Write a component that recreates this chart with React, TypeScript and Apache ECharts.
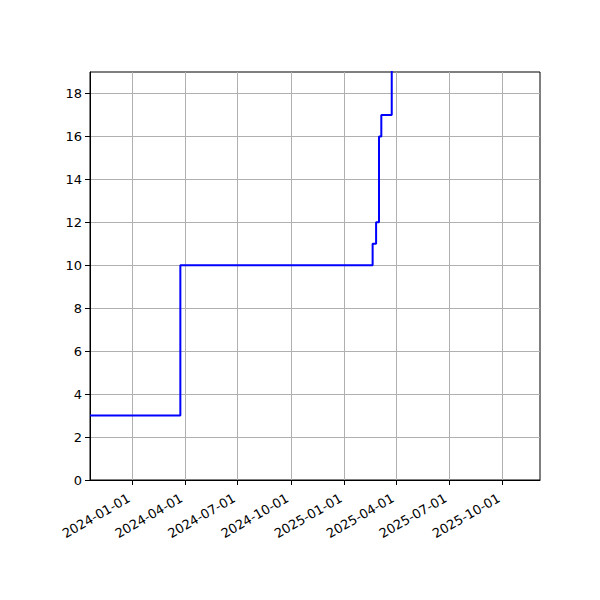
import React, { useEffect, useRef } from 'react';
import * as echarts from 'echarts';

// 数据：值在该日期发生变化
const changeDates = ['2023-10-20', '2024-03-24', '2025-02-19', '2025-02-25', '2025-03-02', '2025-03-06', '2025-03-24', '2025-12-05'];
const counts = [3, 10, 11, 12, 16, 17, 30, 30];
const xTickDates = ['2024-01-01', '2024-04-01', '2024-07-01', '2024-10-01', '2025-01-01', '2025-04-01', '2025-07-01', '2025-10-01'];
const yTicks = [0, 2, 4, 6, 8, 10, 12, 14, 16, 18];
const xMin = '2023-10-20';
const xMax = '2025-12-05';
const yMax = 19;

const ts = (d: string) => new Date(d + 'T00:00:00Z').getTime();
const fmt = (v: number) => new Date(v).toISOString().slice(0, 10);

export default function App() {
    const chartRef = useRef<HTMLDivElement>(null);

    useEffect(() => {
        if (!chartRef.current) return;
        const chart = echarts.init(chartRef.current, null, { renderer: 'svg' });
        const font = { fontFamily: 'DejaVu Sans', fontSize: 13, color: '#000' };
        const tickVals = xTickDates.map(ts);
        chart.setOption({
            animation: false,
            grid: { left: 90, right: 60, top: 72, bottom: 120, show: true, borderColor: '#000', borderWidth: 1, backgroundColor: '#fff' },
            xAxis: {
                type: 'value',
                min: ts(xMin),
                max: ts(xMax),
                axisLine: { show: true, lineStyle: { color: '#000' } },
                axisTick: { show: true, length: 5, lineStyle: { color: '#000' }, customValues: tickVals },
                axisLabel: { ...font, rotate: 30, margin: 15, padding: [0, 4, 0, 0], customValues: tickVals, formatter: (v: number) => fmt(v) },
                splitLine: { show: false },
            },
            yAxis: {
                type: 'value',
                min: 0,
                max: yMax,
                axisLine: { show: true, lineStyle: { color: '#000' } },
                axisTick: { show: true, length: 5, lineStyle: { color: '#000' }, customValues: yTicks },
                axisLabel: { ...font, margin: 8, customValues: yTicks },
                splitLine: { show: true, lineStyle: { color: '#b0b0b0', width: 1 } },
            },
            series: [
                {
                    type: 'line',
                    step: 'end',
                    showSymbol: false,
                    clip: true,
                    data: changeDates.map((d, i) => [ts(d), counts[i]]),
                    lineStyle: { color: '#0000ff', width: 2 },
                    z: 3,
                    markLine: {
                        silent: true,
                        symbol: 'none',
                        label: { show: false },
                        lineStyle: { color: '#b0b0b0', width: 1, type: 'solid' },
                        data: tickVals.map((v) => ({ xAxis: v })),
                        z: 1,
                    },
                },
            ],
        });
        return () => {
            chart.dispose();
        };
    }, []);

    return <div ref={chartRef} style={{ position: 'fixed', left: 0, top: 0, width: '600px', height: '600px', background: '#fff' }}></div>;
}
